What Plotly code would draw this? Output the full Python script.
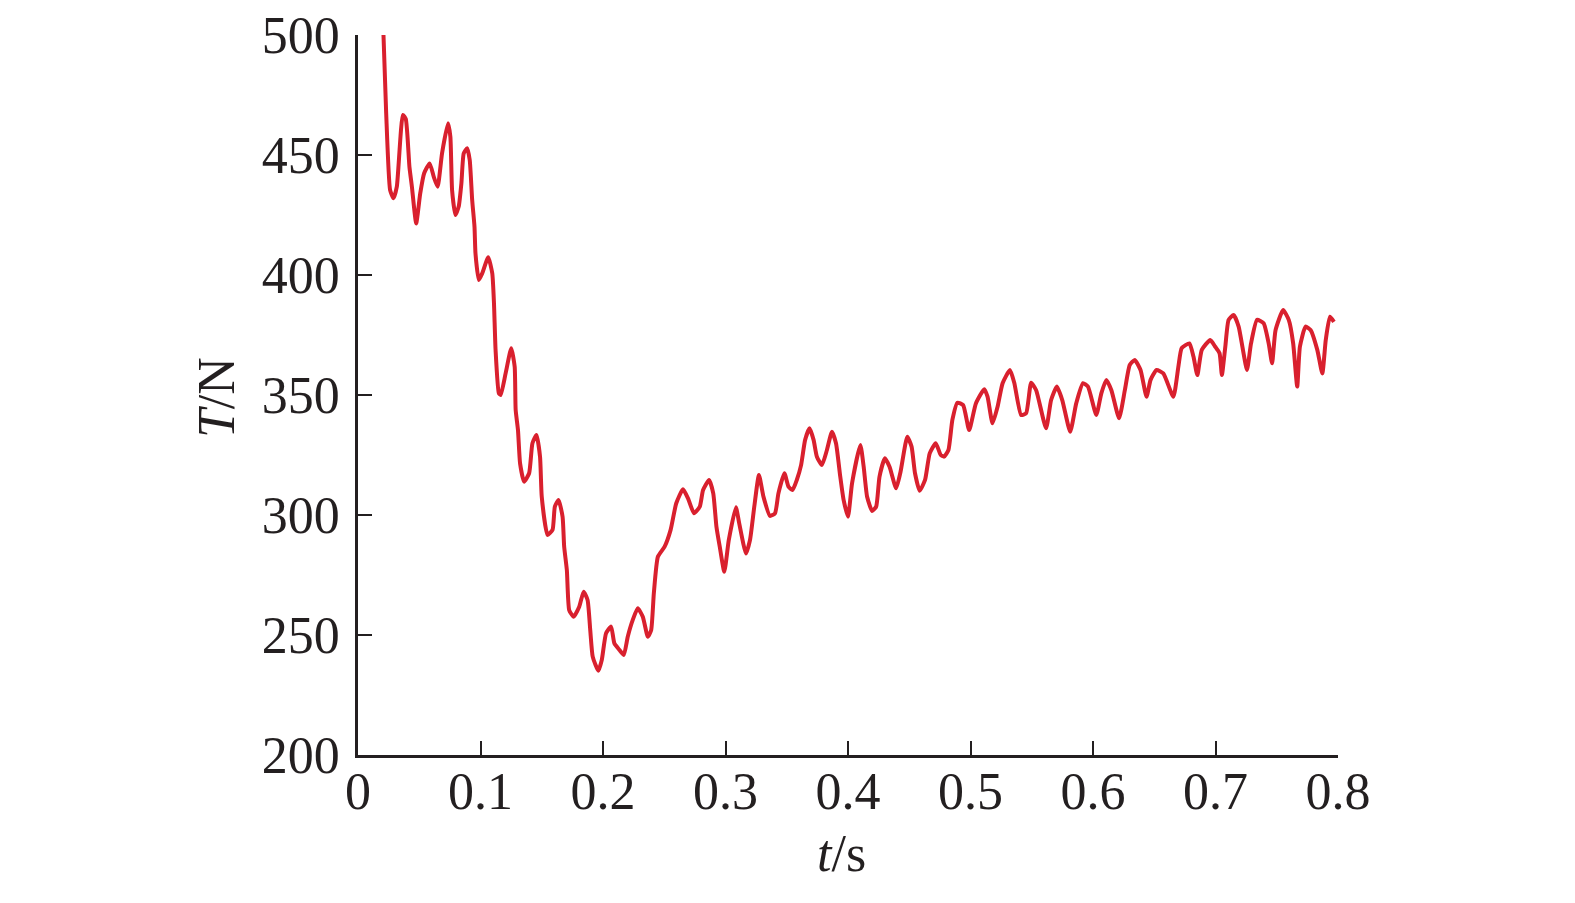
import plotly.graph_objects as go

t_s = [0.0208, 0.023, 0.0262, 0.029, 0.0317, 0.0366, 0.039, 0.042, 0.044, 0.0475, 0.0508, 0.054, 0.0585,
       0.0618, 0.065, 0.0686, 0.0735, 0.0754, 0.0768, 0.0795, 0.0822, 0.0844, 0.0863, 0.0891, 0.0912,
       0.0932, 0.0951, 0.0959, 0.0986, 0.1014, 0.1063, 0.1096, 0.111, 0.1123, 0.115, 0.1165, 0.1205,
       0.1251, 0.1279, 0.1287, 0.1306, 0.1323, 0.1356, 0.1397, 0.1424, 0.1457, 0.1486, 0.15, 0.1547,
       0.1588, 0.1607, 0.1637, 0.167, 0.1683, 0.1705, 0.1724, 0.176, 0.1806, 0.1842, 0.1874, 0.1896,
       0.1916, 0.1962, 0.199, 0.2025, 0.2066, 0.2093, 0.2134, 0.217, 0.2202, 0.2243, 0.2284, 0.2325,
       0.2366, 0.2393, 0.2415, 0.2448, 0.2503, 0.2552, 0.2598, 0.2653, 0.2694, 0.2743, 0.279, 0.2817,
       0.2866, 0.29, 0.2926, 0.2953, 0.299, 0.3027, 0.3085, 0.3112, 0.3167, 0.32, 0.3235, 0.3273,
       0.331, 0.3363, 0.3404, 0.3432, 0.3481, 0.3514, 0.3547, 0.3582, 0.3617, 0.365, 0.3686, 0.3719,
       0.3746, 0.3787, 0.3828, 0.3869, 0.3902, 0.3937, 0.3964, 0.4, 0.4033, 0.4101, 0.4128, 0.4156,
       0.4197, 0.423, 0.4257, 0.4301, 0.4339, 0.4393, 0.4429, 0.4484, 0.4519, 0.4547, 0.4585, 0.4629,
       0.4667, 0.4716, 0.4757, 0.4784, 0.482, 0.4852, 0.4893, 0.494, 0.4989, 0.5044, 0.5112, 0.5139,
       0.518, 0.5221, 0.5262, 0.5322, 0.5358, 0.5413, 0.5454, 0.5495, 0.5536, 0.5617, 0.5658, 0.5705,
       0.5749, 0.5814, 0.5863, 0.5918, 0.5959, 0.6027, 0.6068, 0.6109, 0.615, 0.6213, 0.626, 0.63,
       0.6341, 0.6388, 0.6437, 0.647, 0.6519, 0.6574, 0.6656, 0.6697, 0.6724, 0.6787, 0.682, 0.6852,
       0.6888, 0.6957, 0.6998, 0.7033, 0.7052, 0.708, 0.7107, 0.7148, 0.7189, 0.7224, 0.7257, 0.729,
       0.7339, 0.7393, 0.7434, 0.7462, 0.749, 0.7552, 0.7598, 0.7634, 0.7667, 0.7689, 0.7735, 0.7776,
       0.7831, 0.7872, 0.79, 0.7934, 0.7967]

T_N = [500, 467.4, 435.4, 432, 436.8, 466.7, 465, 445, 436.8, 421.5, 434, 442.4, 446.5,
       441, 436.8, 450.7, 463.2, 457.6, 435.4, 425, 428.5, 438.2, 450.7, 452.8, 447.9,
       431.3, 420.1, 409, 397.9, 400.7, 407.4, 400.7, 388.2, 368.8, 350.7, 350, 359,
       369.5, 361.8, 343.8, 335.4, 321.5, 313.9, 317.4, 329.9, 333.3, 324.3, 307.6, 291.7,
       293.8, 303.5, 306.3, 299.3, 286.8, 277, 260.4, 257.6, 261.8, 268, 264.6, 252,
       241, 235.1, 239.6, 250.7, 253.5, 246.5, 243.8, 241.7, 249.3, 256.3, 261.1, 257.6,
       249.3, 252, 267.4, 282.6, 286.8, 293.8, 304.9, 310.7, 306.9, 300.7, 303.5, 310.4,
       314.6, 309, 295.1, 286.8, 276.4, 289.6, 303.2, 296.5, 284, 289.6, 303.5, 316.7,
       307.6, 299.6, 300.7, 309, 317.4, 311.8, 310.4, 314.6, 320.8, 331.3, 336.1, 331.3,
       324.3, 320.8, 327.1, 334.7, 329.9, 315.9, 306.3, 299.3, 313.2, 329.2, 320.1, 307.6,
       301.7, 303.5, 315.9, 323.6, 320.1, 311.1, 318, 332.6, 328.5, 317.4, 310.1, 314.6,
       325.7, 329.9, 325, 324.3, 327.1, 339.6, 346.8, 345.8, 335.4, 346.5, 352.4, 349.3,
       338.2, 345.1, 354.9, 360.4, 354.9, 341.7, 342.4, 355.1, 352, 336.1, 347.9, 353.5,
       347.9, 334.7, 346.5, 354.9, 353.5, 341.7, 350.7, 356.3, 352, 340.3, 352, 362.5,
       364.6, 360.4, 349.3, 356.3, 360.4, 359, 349.3, 361.8, 369.5, 371.5, 366, 358.3,
       368.8, 372.9, 370.1, 367.4, 358.3, 370.1, 381.3, 383.3, 378.5, 368.8, 360.4, 371.5,
       381.3, 379.9, 371.5, 363.2, 377, 385.4, 381.3, 371.5, 353.5, 370.1, 378.5, 377.1,
       368.8, 359, 372.9, 382.6, 380.5]

x_ticks = [0, 0.1, 0.2, 0.3, 0.4, 0.5, 0.6, 0.7, 0.8]
x_tick_labels = ["0", "0.1", "0.2", "0.3", "0.4", "0.5", "0.6", "0.7", "0.8"]
y_ticks = [200, 250, 300, 350, 400, 450, 500]
y_tick_labels = ["200", "250", "300", "350", "400", "450", "500"]

ink = "#231f20"
font_family = "Liberation Serif, Times New Roman, serif"

fig = go.Figure()
fig.add_trace(go.Scatter(x=t_s, y=T_N, mode="lines",
                         line=dict(color="#d9202e", width=4, shape="spline", smoothing=0.5),
                         showlegend=False))

axis_common = dict(showgrid=False, zeroline=False, showline=True, linecolor=ink, linewidth=2.5,
                   ticks="inside", ticklen=14, tickwidth=2, tickcolor=ink, mirror=False,
                   automargin=False, ticklabeloverflow="allow",
                   tickfont=dict(family=font_family, size=52, color=ink))

fig.update_xaxes(range=[0, 0.8], tickvals=x_ticks, ticktext=x_tick_labels,
                 ticklabelstandoff=-11, **axis_common)
fig.update_yaxes(range=[200, 500], tickvals=y_ticks, ticktext=y_tick_labels,
                 ticklabelstandoff=5, **axis_common)

fig.add_annotation(text="<i>t</i>/s", xref="paper", yref="paper", x=0.493, y=-0.137,
                   showarrow=False, xanchor="center", yanchor="middle",
                   font=dict(family=font_family, size=52, color=ink))
fig.add_annotation(text="<i>T</i>/N", xref="paper", yref="paper", x=-0.145, y=0.497,
                   showarrow=False, xanchor="center", yanchor="middle", textangle=-90,
                   font=dict(family=font_family, size=52, color=ink))

fig.update_layout(width=1575, height=903, plot_bgcolor="white", paper_bgcolor="white",
                  margin=dict(l=350, r=245, t=27, b=156, autoexpand=False))

fig.write_html("out.html")
